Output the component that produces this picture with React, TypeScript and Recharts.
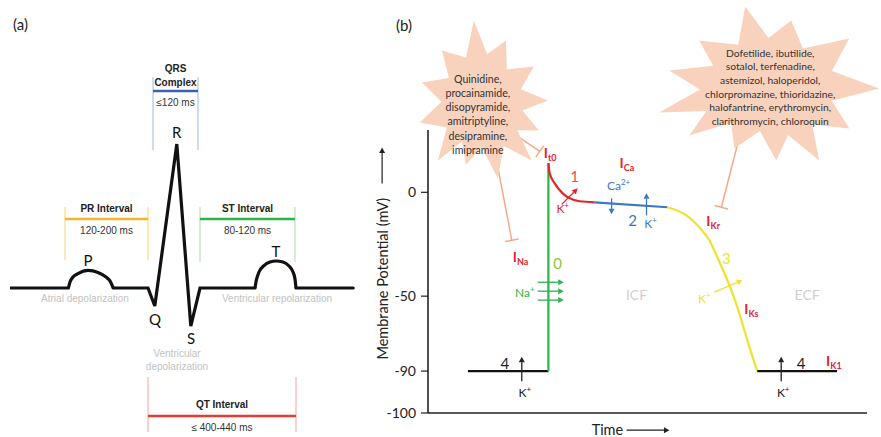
import React from 'react'
import { LineChart, Line, XAxis, YAxis, ReferenceLine, ReferenceDot } from 'recharts'

const FONT = 'Lato, "Open Sans", sans-serif'
const ARIAL = '"Liberation Sans", Arial, sans-serif'

// ---------- (a) ECG: time in ms, amplitude in mV ----------
const ecgT = [0, 146, 200, 258, 345, 362, 417, 452, 475, 612.5, 660, 715, 858]
const ecgV = [0, 0, null, 0, 0, -0.125, 1.0, -0.264, 0, 0, null, 0, 0]
const pWaveT = [146, 150, 157.5, 170, 195, 220, 240, 250, 258]
const pWaveV = [0, 0.042, 0.076, 0.1, 0.122, 0.108, 0.076, 0.049, 0]
const tWaveT = [612.5, 616, 622.5, 635, 650, 665, 682.5, 697.5, 707.5, 712.5, 715]
const tWaveV = [0, 0.056, 0.111, 0.156, 0.181, 0.1875, 0.181, 0.153, 0.111, 0.063, 0]

const intervalNames = [['PR Interval'], ['QRS', 'Complex'], ['ST Interval'], ['QT Interval']]
const intervalRanges = ['120-200 ms', '≤120 ms', '80-120 ms', '≤ 400-440 ms']
const intervalFrom = [137.5, 357.5, 475, 345]
const intervalTo = [345, 470, 712.5, 715]

// ---------- (b) action potential: time in ms, potential in mV ----------
const rest1T = [60, 181]
const rest1V = [-90, -90]
const phase0T = [181, 181]
const phase0V = [-90, 14]
const phase1T = [181, 183, 190.5, 202.5, 213, 228, 250.5]
const phase1V = [14, 9.1, 4.3, -0.5, -2.9, -4.3, -4.8]
const phase2T = [250.5, 360]
const phase2V = [-4.8, -7.2]
const phase3T = [360, 388.5, 408, 423, 435, 445.5, 456, 468, 480, 495]
const phase3V = [-7.2, -11.1, -16.8, -23.1, -31.3, -38.9, -47.1, -59.1, -73.5, -90]
const rest2T = [495, 615]
const rest2V = [-90, -90]
const apTicks = [-100, -90, -50, 0]

const drugsLeft = ['Quinidine,', 'procainamide,', 'disopyramide,', 'amitriptyline,', 'desipramine,', 'imipramine']
const drugsRight = [
  'Dofetilide, ibutilide,',
  'sotalol, terfenadine,',
  'astemizol, haloperidol,',
  'chlorpromazine, thioridazine,',
  'halofantrine, erythromycin,',
  'clarithromycin, chloroquin',
]

const zip = (ts: number[], vs: (number | null)[]) => ts.map((t, i) => ({ t, v: vs[i] }))

// the schematic y axis of (b) is not linear: ticks are drawn with uneven spacing
const apTickSpacing = [0, 42, 117, 221]
function gapScale(knots: number[], gaps: number[], slopeAbove: number) {
  const warp = (v: number) => {
    const n = knots.length
    if (v <= knots[0]) return gaps[0] + ((v - knots[0]) * (gaps[1] - gaps[0])) / (knots[1] - knots[0])
    for (let i = 1; i < n; i++) {
      if (v <= knots[i]) return gaps[i - 1] + ((v - knots[i - 1]) * (gaps[i] - gaps[i - 1])) / (knots[i] - knots[i - 1])
    }
    return gaps[n - 1] + (v - knots[n - 1]) * slopeAbove
  }
  const make = (dom: number[], rng: number[]): any => {
    const s: any = (v: number) => {
      const a = warp(dom[0])
      const b = warp(dom[dom.length - 1])
      return rng[0] + ((warp(v) - a) / (b - a)) * (rng[rng.length - 1] - rng[0])
    }
    s.domain = (d?: number[]) => {
      if (!d) return dom.slice()
      dom = d.slice()
      return s
    }
    s.range = (r?: number[]) => {
      if (!r) return rng.slice()
      rng = r.slice()
      return s
    }
    s.copy = () => make(dom.slice(), rng.slice())
    s.ticks = () => knots.slice()
    s.tickFormat = () => (v: number) => String(v)
    s.nice = () => s
    s.clamp = () => s
    return s
  }
  return make([knots[0], knots[knots.length - 1]], [0, 1])
}
const apScale = gapScale(apTicks, apTickSpacing, 2.08)

// ---------- small drawing helpers ----------
const note = (key: string, x: number, y: number, body: React.ReactNode, props: any = {}) => (
  <ReferenceDot
    key={key}
    x={x}
    y={y}
    r={0}
    ifOverflow="visible"
    shape={(p: any) => (
      <text x={p.cx} y={p.cy} textAnchor="middle" fontFamily={FONT} {...props}>
        {body}
      </text>
    )}
  />
)

const seg = (key: string, a: number[], b: number[], props: any = {}) => (
  <ReferenceLine
    key={key}
    segment={[{ x: a[0], y: a[1] }, { x: b[0], y: b[1] }]}
    ifOverflow="visible"
    {...props}
  />
)

const arrowShape = (color: string, w = 1.3) => (p: any) => {
  const { x1, y1, x2, y2 } = p
  const a = Math.atan2(y2 - y1, x2 - x1)
  const L = 5.5
  const s = 3
  const bx = x2 - L * Math.cos(a)
  const by = y2 - L * Math.sin(a)
  const pts = `${x2},${y2} ${bx + s * Math.sin(a)},${by - s * Math.cos(a)} ${bx - s * Math.sin(a)},${by + s * Math.cos(a)}`
  return (
    <g>
      <line x1={x1} y1={y1} x2={bx} y2={by} stroke={color} strokeWidth={w} />
      <polygon points={pts} fill={color} />
    </g>
  )
}

const PEACH = '#f3a98a'
const inhibitShape = (p: any) => {
  const { x1, y1, x2, y2 } = p
  const len = Math.hypot(x2 - x1, y2 - y1)
  const nx = (-(y2 - y1) / len) * 7
  const ny = ((x2 - x1) / len) * 7
  return (
    <g>
      <line x1={x1} y1={y1} x2={x2} y2={y2} stroke={PEACH} strokeWidth={1.5} />
      <line x1={x2 + nx} y1={y2 + ny} x2={x2 - nx} y2={y2 - ny} stroke={PEACH} strokeWidth={1.5} />
    </g>
  )
}

const burstShape = (tips: number[][], lines: string[], dx: number, dy: number, fontSize: number, lead: number) => (p: any) => {
  const { cx, cy } = p
  const pts: string[] = []
  tips.forEach((tp, i) => {
    const nx = tips[(i + 1) % tips.length]
    pts.push(`${cx + tp[0]},${cy + tp[1]}`)
    pts.push(`${cx + (tp[0] + nx[0]) * 0.33},${cy + (tp[1] + nx[1]) * 0.33}`)
  })
  const y0 = cy + dy - ((lines.length - 1) * lead) / 2
  return (
    <g>
      <polygon points={pts.join(' ')} fill="#f9d2bd" />
      <text textAnchor="middle" fontFamily={FONT} fontSize={fontSize} fill="#333">
        {lines.map((l, i) => (
          <tspan key={i} x={cx + dx} y={y0 + i * lead}>
            {l}
          </tspan>
        ))}
      </text>
    </g>
  )
}

const sub = (main: string, s: string) => (
  <>
    <tspan>{main}</tspan>
    <tspan fontSize={9} dy={3}>
      {s}
    </tspan>
  </>
)
const sup = (main: string, s: string) => (
  <>
    <tspan>{main}</tspan>
    <tspan fontSize={8} dy={-5}>
      {s}
    </tspan>
  </>
)

// ---------- panel (a) ----------
function EcgPanel() {
  const look = [
    { top: 0.5625, bottom: 0.194, bar: 0.479, names: [0.528], range: 0.375, dark: '#f5b52a', light: '#fbd88a' },
    { top: 1.465, bottom: 0.958, bar: 1.368, names: [1.5, 1.403], range: 1.262, dark: '#3d5fb3', light: '#aec3ea' },
    { top: 0.5625, bottom: 0.181, bar: 0.479, names: [0.528], range: 0.375, dark: '#2fb24c', light: '#b9e2b5' },
    { top: -0.618, bottom: -1.0, bar: -0.889, names: [-0.833], range: -0.993, dark: '#e53a35', light: '#f6b3b1' },
  ]
  const ecg = { stroke: '#111', strokeWidth: 3.2, dot: false, activeDot: false, isAnimationActive: false }
  return (
    <LineChart width={370} height={437} margin={{ top: 0, right: 10, bottom: 5, left: 10 }}>
      <XAxis type="number" dataKey="t" domain={[0, 875]} allowDataOverflow hide />
      <YAxis type="number" domain={[-1, 2]} allowDataOverflow hide />
      {intervalNames.map((names, i) => {
        const l = look[i]
        const mid = (intervalFrom[i] + intervalTo[i]) / 2
        return [
          seg(`l${i}a`, [intervalFrom[i], l.top], [intervalFrom[i], l.bottom], { stroke: l.light, strokeWidth: 1.2 }),
          seg(`l${i}b`, [intervalTo[i], l.top], [intervalTo[i], l.bottom], { stroke: l.light, strokeWidth: 1.2 }),
          seg(`l${i}c`, [intervalFrom[i], l.bar], [intervalTo[i], l.bar], { stroke: l.dark, strokeWidth: 2.6 }),
          ...names.map((n, j) =>
            note(`n${i}${j}`, mid, l.names[j], n, { fontFamily: ARIAL, fontSize: 10, fontWeight: 700, fill: '#222' })
          ),
          note(`r${i}`, mid, l.range, intervalRanges[i], { fontFamily: ARIAL, fontSize: 10, fill: '#333' }),
        ]
      })}
      <Line data={zip(ecgT, ecgV)} dataKey="v" type="linear" {...ecg} strokeLinecap="round" />
      <Line data={zip(pWaveT, pWaveV)} dataKey="v" type="monotone" {...ecg} />
      <Line data={zip(tWaveT, tWaveV)} dataKey="v" type="monotone" {...ecg} />
      {note('pa', 7.5, 1.79, '(a)', { textAnchor: 'start', fontSize: 15, fill: '#222' })}
      {note('P', 195, 0.153, 'P', { fontSize: 15, fill: '#111' })}
      {note('R', 417, 1.042, 'R', { fontSize: 15, fill: '#111' })}
      {note('Q', 362.5, -0.257, 'Q', { fontSize: 15, fill: '#111' })}
      {note('S', 452.5, -0.389, 'S', { fontSize: 15, fill: '#111' })}
      {note('T', 665, 0.215, 'T', { fontSize: 15, fill: '#111' })}
      {note('ad', 187.5, -0.097, 'Atrial depolarization', { fontFamily: ARIAL, fontSize: 10, fill: '#c2c2c2' })}
      {note('vr', 667.5, -0.097, 'Ventricular repolarization', { fontFamily: ARIAL, fontSize: 10, fill: '#c2c2c2' })}
      {note('vd1', 417.5, -0.479, 'Ventricular', { fontFamily: ARIAL, fontSize: 10, fill: '#c2c2c2' })}
      {note('vd2', 417.5, -0.569, 'depolarization', { fontFamily: ARIAL, fontSize: 10, fill: '#c2c2c2' })}
    </LineChart>
  )
}

// ---------- panel (b) ----------
function ApPanel() {
  const RED = '#e4252b'
  const GREEN = '#2bb34b'
  const BLUE = '#3b78c4'
  const YELLOW = '#ebe330'
  const base = { dataKey: 'v', dot: false, activeDot: false, isAnimationActive: false, strokeWidth: 2.2 }
  const currents: [string, number, number][] = [
    ['t0', 174, 16.3],
    ['Ca', 288, 11.5],
    ['Na', 127.5, -33.7],
    ['Kr', 418.5, -16.3],
    ['Ks', 475.5, -59.6],
    ['K1', 598.5, -87.3],
  ]
  const phases: [string, number, number, string][] = [
    ['0', 195, -37, '#8cc63f'],
    ['1', 220.5, 4.8, '#ee4a4a'],
    ['2', 307.5, -16.3, BLUE],
    ['3', 448.5, -34.6, YELLOW],
    ['4', 115.5, -88.9, '#222'],
    ['4', 561, -88.9, '#222'],
  ]
  const ions: [string, string, number, number, string][] = [
    ['K', '+', 145.5, -96.2, '#222'],
    ['K', '+', 534, -96.2, '#222'],
    ['K', '+', 202.5, -10.1, RED],
    ['Ca', '2+', 286.5, 1, BLUE],
    ['K', '+', 334.5, -17.3, BLUE],
    ['K', '+', 415.5, -53.7, YELLOW],
    ['Na', '+', 145.5, -50.5, GREEN],
  ]
  const arrows: [number[], number[], string][] = [
    [[165, -43.3], [204, -43.3], GREEN],
    [[165, -47.6], [204, -47.6], GREEN],
    [[165, -52.1], [204, -52.1], GREEN],
    [[141, -92.4], [141, -82.3], '#222'],
    [[531, -92.4], [531, -82.3], '#222'],
    [[201, -5.8], [225, 1.9], RED],
    [[276, -2.9], [276, -10.6], BLUE],
    [[328.5, -11.1], [328.5, -0.5], BLUE],
    [[430.5, -48.1], [472.5, -42.3], YELLOW],
  ]
  const leftTips = [
    [-8, -80], [24, -60], [52, -34], [66, 0], [57, 30], [50, 60], [16, 78],
    [-16, 64], [-44, 60], [-62, 22], [-60, -18], [-40, -50],
  ]
  const rightTips = [
    [-70, -45], [-24, -79], [22, -65], [80, -47], [110, 3], [80, 43], [50, 75],
    [7, 75], [-35, 63], [-80, 50], [-110, 27], [-100, -15],
  ]
  return (
    <LineChart width={521} height={437} margin={{ top: 130, right: 14, bottom: 0, left: 38 }}>
      <XAxis
        type="number"
        dataKey="t"
        domain={[0, 660]}
        allowDataOverflow
        tick={false}
        tickLine={false}
        height={24}
        axisLine={{ stroke: '#222', strokeWidth: 1.6 }}
      />
      <YAxis
        type="number"
        domain={[-100, 30]}
        allowDataOverflow
        scale={apScale}
        ticks={apTicks}
        interval={0}
        width={30}
        tickSize={7}
        tickMargin={5}
        tick={{ fill: '#222', fontSize: 14, fontFamily: FONT }}
        tickLine={{ stroke: '#222', strokeWidth: 1.2 }}
        axisLine={{ stroke: '#222', strokeWidth: 1.6 }}
      />
      <ReferenceDot x={81} y={44.2} r={0} ifOverflow="visible" shape={burstShape(leftTips, drugsLeft, -4, 17.8, 10.6, 14.3)} />
      <ReferenceDot x={513} y={51.4} r={0} ifOverflow="visible" shape={burstShape(rightTips, drugsRight, 1, 5.3, 10.3, 13.7)} />
      {seg('i1', [135, 26.9], [168, 19.7], { shape: inhibitShape })}
      {seg('i2', [105, 12], [126, -23.1], { shape: inhibitShape })}
      {seg('i3', [466.5, 24.5], [441, -7.2], { shape: inhibitShape })}

      <Line data={zip(rest1T, rest1V)} type="linear" stroke="#111" {...base} />
      <Line data={zip(phase0T, phase0V)} type="linear" stroke={GREEN} {...base} />
      <Line data={zip(phase1T, phase1V)} type="monotone" stroke={RED} {...base} />
      <Line data={zip(phase2T, phase2V)} type="linear" stroke={BLUE} {...base} />
      <Line data={zip(phase3T, phase3V)} type="monotone" stroke={YELLOW} {...base} />
      <Line data={zip(rest2T, rest2V)} type="linear" stroke="#111" {...base} />

      {arrows.map((a, i) => seg(`a${i}`, a[0], a[1], { shape: arrowShape(a[2]) }))}
      {currents.map((c, i) =>
        note(`c${i}`, c[1], c[2], sub('I', c[0]), { textAnchor: 'start', fontSize: 14, fontWeight: 700, fill: RED })
      )}
      {phases.map((p, i) => note(`p${i}`, p[1], p[2], p[0], { fontSize: 15, fill: p[3] }))}
      {ions.map((o, i) => note(`o${i}`, o[2], o[3], sup(o[0], o[1]), { fontSize: 12, fill: o[4] }))}
      {note('icf', 313.5, -52.1, 'ICF', { fontSize: 14, fill: '#cfcfcf' })}
      {note('ecf', 570, -52.1, 'ECF', { fontSize: 14, fill: '#cfcfcf' })}
      {note('pb', -48, 77.9, '(b)', { textAnchor: 'start', fontSize: 15, fill: '#222' })}

      <ReferenceDot
        x={-69}
        y={-41.6}
        r={0}
        ifOverflow="visible"
        shape={(p: any) => (
          <text
            x={p.cx}
            y={p.cy}
            transform={`rotate(-90 ${p.cx} ${p.cy})`}
            textAnchor="middle"
            dominantBaseline="central"
            fontFamily={FONT}
            fontSize={14.5}
            fill="#222"
          >
            Membrane Potential (mV)
          </text>
        )}
      />
      {seg('ya', [-69, 4.3], [-69, 21.6], { shape: arrowShape('#222', 1.2) })}
      {note('time', 246, -105.2, 'Time', { textAnchor: 'start', fontSize: 14.5, fill: '#222' })}
      {seg('xa', [298.5, -104.1], [363, -104.1], { shape: arrowShape('#222', 1.2) })}
    </LineChart>
  )
}

export default function App() {
  return (
    <div style={{ position: 'absolute', left: 0, top: 0, width: 881, height: 437, background: '#fff', overflow: 'hidden' }}>
      <div style={{ position: 'absolute', left: 0, top: 0 }}>
        <EcgPanel />
      </div>
      <div style={{ position: 'absolute', left: 360, top: 0 }}>
        <ApPanel />
      </div>
    </div>
  )
}
